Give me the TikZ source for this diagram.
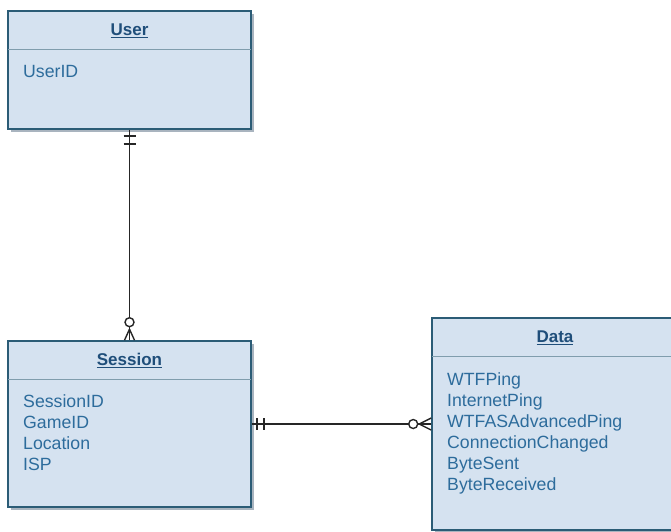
\documentclass[tikz,border=0pt]{standalone}
\usepackage{fontspec}
\setmainfont{Liberation Sans}
\usetikzlibrary{calc}
\definecolor{boxfill}{HTML}{D5E2F0}
\definecolor{boxline}{HTML}{2B5C76}
\definecolor{attrcol}{HTML}{2D6C9C}
\definecolor{titlecol}{HTML}{1F4E7A}
\definecolor{shadowcol}{HTML}{A9B4BF}
\begin{document}
\begin{tikzpicture}[x=1pt,y=-1pt,
  entity/.style={draw=boxline,line width=1.6pt,fill=boxfill,minimum width=#1,inner sep=0pt,rectangle},
  etitle/.style={text=titlecol,font=\fontsize{17}{19}\selectfont\bfseries,anchor=base,inner sep=0pt},
  attrs/.style={text=attrcol,font=\fontsize{17.7}{21.2}\selectfont,anchor=base west,inner sep=0pt},
  sepline/.style={draw=boxline!60,line width=0.8pt},
  rel/.style={draw=black!85,line width=1.5pt},
  ermark/.style={draw=black!85,line width=1.4pt}]
\useasboundingbox (0,0) rectangle (671,531);
\fill[white] (0,0) rectangle (671,531);
% shadows
\fill[shadowcol] (11,14) rectangle (254,132);
\fill[shadowcol] (11,344) rectangle (254,510);
\fill[shadowcol] (435,321) rectangle (681,533);
% entities
\node[entity=243pt,minimum height=118pt] (user) at (129.5,70) {};
\node[entity=243pt,minimum height=166pt] (session) at (129.5,424) {};
\node[entity=246pt,minimum height=212pt] (data) at (555,424) {};
% separators
\draw[sepline] ($(user.north west)+(0.8,39)$) -- ($(user.north east)+(-0.8,39)$);
\draw[sepline] ($(session.north west)+(0.8,39)$) -- ($(session.north east)+(-0.8,39)$);
\draw[sepline] ($(data.north west)+(0.8,39)$) -- ($(data.north east)+(-0.8,39)$);
% titles
\node[etitle] (usert) at ($(user.north)+(0,25)$) {\underline{User}};
\node[etitle] (sessiont) at ($(session.north)+(0,25)$) {\underline{Session}};
\node[etitle] (datat) at ($(data.north)+(0,25)$) {\underline{Data}};
% attributes
\node[attrs] (usera1) at (23,77) {UserID};
\foreach \t [count=\i] in {SessionID,GameID,Location,ISP}
  \node[attrs] (sessiona\i) at (23,{407+21.3*(\i-1)}) {\t};
\foreach \t [count=\i] in {WTFPing,InternetPing,WTFASAdvancedPing,ConnectionChanged,ByteSent,ByteReceived}
  \node[attrs] (dataa\i) at (447,{385+21*(\i-1)}) {\t};
% relationship User -- Session
\draw[rel] (user.south) -- ($(session.north)+(0,-23)$);
\draw[ermark] ($(user.south)+(-6,6)$) -- ($(user.south)+(6,6)$);
\draw[ermark] ($(user.south)+(-6,14)$) -- ($(user.south)+(6,14)$);
\draw[ermark] ($(session.north)+(0,-18)$) circle (4.5);
\draw[ermark] ($(session.north)+(0,-13.5)$) -- (session.north);
\draw[ermark] ($(session.north)+(0,-11)$) -- ($(session.north)+(-5,0)$);
\draw[ermark] ($(session.north)+(0,-11)$) -- ($(session.north)+(5,0)$);
% relationship Session -- Data
\draw[rel] (session.east) -- ($(data.west)+(-22.5,0)$);
\draw[ermark] ($(session.east)+(5,-6)$) -- ($(session.east)+(5,6)$);
\draw[ermark] ($(session.east)+(12,-6)$) -- ($(session.east)+(12,6)$);
\draw[ermark] ($(data.west)+(-18,0)$) circle (4.5);
\draw[ermark] ($(data.west)+(-13.5,0)$) -- (data.west);
\draw[ermark] ($(data.west)+(-12,0)$) -- ($(data.west)+(0,-6)$);
\draw[ermark] ($(data.west)+(-12,0)$) -- ($(data.west)+(0,6)$);
\end{tikzpicture}
\end{document}
